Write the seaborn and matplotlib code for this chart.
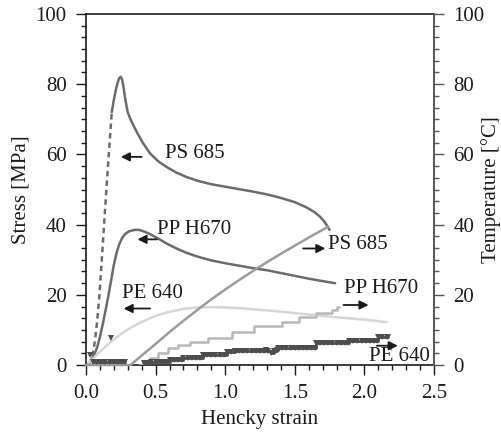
import matplotlib
matplotlib.use("Agg")
import matplotlib.pyplot as plt
from matplotlib.ticker import MultipleLocator
import seaborn as sns

# ---- stress curves (left axis, MPa) ----
ps_dash_x = [0.02, 0.035, 0.05, 0.065, 0.08, 0.095, 0.11, 0.125, 0.14, 0.155,
             0.17, 0.185]
ps_dash_y = [0.0, 1.5, 3.5, 7.0, 12.5, 19.0, 28.0, 37.0, 46.0, 55.0,
             63.5, 72.0]

ps_stress_x = [0.185, 0.20, 0.215, 0.23, 0.24, 0.25, 0.26, 0.27, 0.28, 0.29,
               0.30, 0.32, 0.34, 0.37, 0.41, 0.46, 0.52, 0.58, 0.65, 0.72,
               0.8, 0.9, 1.0, 1.1, 1.2, 1.3, 1.4, 1.5, 1.58, 1.64, 1.68,
               1.71, 1.73, 1.75]
ps_stress_y = [72.0, 75.5, 78.5, 80.8, 81.8, 82.1, 81.3, 79.0, 76.3, 74.0,
               72.0, 70.0, 68.3, 66.0, 63.2, 60.3, 58.0, 56.4, 54.8, 53.6,
               52.5, 51.5, 50.8, 50.1, 49.4, 48.6, 47.6, 46.4, 45.0, 43.6, 42.3,
               41.0, 39.8, 38.5]

pp_stress_x = [0.0, 0.03, 0.06, 0.08, 0.10, 0.12, 0.14, 0.16, 0.18, 0.20,
               0.22, 0.24, 0.26, 0.28, 0.31, 0.35, 0.38, 0.42, 0.46, 0.52,
               0.58, 0.65, 0.72, 0.8, 0.9, 1.0, 1.1, 1.2, 1.3, 1.45, 1.6,
               1.7, 1.79]
pp_stress_y = [0.0, 1.0, 3.0, 5.0, 8.0, 11.5, 15.5, 19.5, 24.0, 28.5,
               32.0, 34.5, 36.2, 37.3, 38.1, 38.5, 38.5, 38.0, 37.3, 36.0,
               34.6, 33.2, 32.0, 30.9, 29.8, 29.0, 28.3, 27.6, 27.0, 25.8, 24.6,
               23.9, 23.3]

pe_stress_x = [0.0, 0.05, 0.1, 0.17, 0.25, 0.32, 0.4, 0.5, 0.6, 0.7, 0.8,
               0.9, 1.0, 1.1, 1.2, 1.35, 1.5, 1.65, 1.8, 1.95, 2.08, 2.16]
pe_stress_y = [0.0, 1.8, 3.8, 6.3, 8.8, 10.6, 12.3, 14.0, 15.2, 16.0, 16.4,
               16.5, 16.4, 16.2, 15.9, 15.4, 14.8, 14.2, 13.6, 13.1, 12.6, 12.2]

# ---- temperature curves (right axis, deg C) ----
ps_temp_x = [0.0, 0.32, 0.4, 0.5, 0.6, 0.7, 0.8, 0.9, 1.0, 1.1, 1.2, 1.3,
             1.4, 1.5, 1.6, 1.74]
ps_temp_y = [0.0, 0.0, 2.7, 6.0, 9.4, 12.6, 15.7, 18.7, 21.5, 24.2, 26.8, 29.3,
             31.7, 34.0, 36.3, 39.4]

pp_temp_x = [0.38, 0.41, 0.46, 0.52, 0.59, 0.66, 0.75, 0.88, 1.05, 1.21,
             1.41, 1.53, 1.65, 1.77, 1.80, 1.82]
pp_temp_y = [0.0, 0.9, 1.9, 3.3, 4.8, 5.7, 6.6, 7.6, 9.5, 11.2,
             12.3, 13.8, 14.7, 15.7, 16.4, 16.4]

pe_temp_a_x = [0.05, 0.08, 0.11, 0.14, 0.17, 0.20, 0.23, 0.26, 0.28]
pe_temp_a_y = [1.0, 1.0, 1.0, 1.0, 1.0, 1.0, 1.0, 1.0, 1.0]

pe_temp_b_x = [0.42, 0.44, 0.47, 0.50, 0.53, 0.56, 0.59, 0.60, 0.63, 0.66,
               0.69, 0.70, 0.73, 0.76, 0.79, 0.82, 0.84, 0.87, 0.90, 0.93,
               0.96, 0.99, 1.01, 1.04, 1.07, 1.10, 1.13, 1.16, 1.19, 1.22,
               1.25, 1.28, 1.29, 1.31, 1.33, 1.35, 1.37, 1.38, 1.41, 1.44,
               1.47, 1.50, 1.53, 1.56, 1.59, 1.62, 1.645, 1.65, 1.68, 1.71,
               1.74, 1.77, 1.80, 1.83, 1.86, 1.88, 1.89, 1.92, 1.95, 1.98,
               2.01, 2.04, 2.07, 2.09, 2.10, 2.13, 2.16, 2.17]
pe_temp_b_y = [0.7, 0.7, 1.0, 1.0, 1.0, 1.0, 1.0, 1.4, 1.4, 1.4,
               1.4, 1.9, 1.9, 1.9, 1.9, 1.9, 2.85, 2.85, 2.85, 2.85,
               2.85, 2.85, 3.8, 3.8, 4.1, 4.1, 4.1, 4.1, 4.1, 4.1,
               4.1, 4.1, 4.3, 4.0, 3.4, 4.0, 4.3, 4.75, 4.75, 4.75,
               4.75, 4.75, 4.75, 4.75, 4.75, 4.75, 4.75, 6.2, 6.2, 6.2,
               6.2, 6.2, 6.2, 6.2, 6.2, 6.2, 6.9, 6.9, 6.9, 6.9,
               6.9, 6.9, 6.9, 6.9, 8.1, 8.1, 8.1, 8.1]

pe_stray_x = [0.03, 0.18]
pe_stray_y = [2.8, 7.6]

# labels with arrows: (text, text_x, text_y, tail_x, head_x, arrow_y)
labels = [
    ("PS 685", 0.57, 60.3, 0.40, 0.25, 59.3),
    ("PP H670", 0.51, 38.5, 0.51, 0.37, 35.8),
    ("PE 640", 0.26, 20.4, 0.46, 0.27, 16.1),
    ("PS 685", 1.74, 34.2, 1.56, 1.72, 33.2),
    ("PP H670", 1.85, 21.8, 1.85, 2.03, 17.1),
    ("PE 640", 2.03, 2.4, 2.09, 2.24, 5.5),
]

sns.set_style("ticks")
plt.rcParams["font.family"] = ["Liberation Serif", "DejaVu Serif"]
plt.rcParams["font.size"] = 15

fig = plt.figure(figsize=(5.02, 4.36), dpi=100)
ax = fig.add_axes([0.1713, 0.1628, 0.6932, 0.8051])
ax2 = ax.twinx()

dark = "#6b6b6b"
sns.lineplot(x=ps_dash_x, y=ps_dash_y, ax=ax, color=dark, lw=1.8,
             linestyle=(0, (2.2, 1.6)), sort=False, estimator=None)
sns.lineplot(x=ps_stress_x, y=ps_stress_y, ax=ax, color=dark, lw=1.8,
             sort=False, estimator=None)
sns.lineplot(x=pp_stress_x, y=pp_stress_y, ax=ax, color=dark, lw=1.8,
             sort=False, estimator=None)
sns.lineplot(x=pe_stress_x, y=pe_stress_y, ax=ax, color="#d6d6d6", lw=1.8,
             sort=False, estimator=None)

sns.lineplot(x=ps_temp_x, y=ps_temp_y, ax=ax2, color="#9b9b9b", lw=1.8,
             sort=False, estimator=None, clip_on=False)
sns.lineplot(x=pp_temp_x, y=pp_temp_y, ax=ax2, color="#b8b8b8", lw=1.8,
             drawstyle="steps-post", sort=False, estimator=None)
for xs, ys in [(pe_temp_a_x, pe_temp_a_y), (pe_temp_b_x, pe_temp_b_y)]:
    sns.lineplot(x=xs, y=ys, ax=ax2, color="#4d4d4d", lw=2.0, marker="v",
                 markersize=4, markeredgewidth=0, drawstyle="steps-post",
                 sort=False, estimator=None)
ax2.plot(pe_stray_x, pe_stray_y, "v", color="#4d4d4d", ms=4.5, mew=0,
         clip_on=False, zorder=5)

for txt, tx, ty, x0, x1, ay in labels:
    ax.text(tx, ty, txt, fontsize=15, va="center", ha="left", color="#1a1a1a")
    ax.annotate("", xy=(x1, ay), xytext=(x0, ay),
                arrowprops=dict(arrowstyle="-|>", color="#1a1a1a", lw=1.3,
                                mutation_scale=13, shrinkA=0, shrinkB=0))

for a in (ax, ax2):
    a.set_xlim(0, 2.5)
    a.set_ylim(0, 100)
    a.yaxis.set_major_locator(MultipleLocator(20))
    a.yaxis.set_minor_locator(MultipleLocator(20 / 6))
ax.xaxis.set_major_locator(MultipleLocator(0.5))
ax.xaxis.set_minor_locator(MultipleLocator(0.1))
ax.xaxis.set_major_formatter(plt.FormatStrFormatter("%.1f"))

ax.tick_params(which="major", length=7, width=1, direction="out", pad=7,
               colors="#1a1a1a", labelsize=15)
ax.tick_params(which="minor", length=3.5, width=1, direction="out",
               colors="#1a1a1a")
ax2.tick_params(which="major", length=7, width=1, direction="out", pad=7,
                color="#555555", labelcolor="#1a1a1a", labelsize=15)
ax2.tick_params(which="minor", length=3.5, width=1, direction="out",
                color="#555555")

for s in ("left", "top", "bottom"):
    ax.spines[s].set_color("#1a1a1a")
    ax.spines[s].set_linewidth(1.2)
    ax2.spines[s].set_visible(False)
ax.spines["right"].set_visible(False)
ax2.spines["right"].set_visible(True)
ax2.spines["right"].set_color("#555555")
ax2.spines["right"].set_linewidth(1.4)

ax.set_xlabel("Hencky strain", fontsize=15, color="#1a1a1a",
              va="center", ha="center")
ax.set_ylabel("Stress [MPa]", fontsize=15, color="#1a1a1a",
              va="center", ha="center")
ax2.set_ylabel("Temperature [°C]", fontsize=15, color="#1a1a1a",
               va="center", ha="center")
ax.xaxis.set_label_coords(0.5, (365 - 419) / 351)
ax.yaxis.set_label_coords((21 - 86) / 348, 0.5)
ax2.yaxis.set_label_coords((491 - 86) / 348, 0.5)

fig.savefig("out.png", dpi=100)
